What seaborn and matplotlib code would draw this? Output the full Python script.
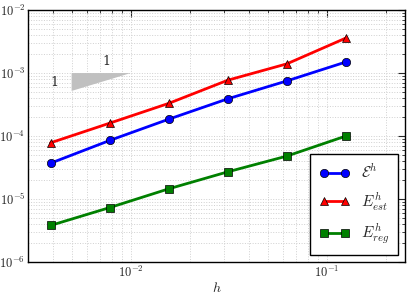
import math

import matplotlib
matplotlib.use('Agg')
import matplotlib.pyplot as plt
import matplotlib.ticker as ticker
import pandas as pd
import seaborn as sns

# dados
h = [1/256, 1/128, 1/64, 1/32, 1/16, 1/8]
err_total = [3.7e-5, 8.5e-5, 1.85e-4, 3.9e-4, 7.5e-4, 1.5e-3]
err_est = [7.8e-5, 1.6e-4, 3.3e-4, 7.7e-4, 1.4e-3, 3.6e-3]
err_reg = [3.8e-6, 7.3e-6, 1.45e-5, 2.7e-5, 4.8e-5, 1.0e-4]

labels = [r'$\mathcal{E}^h$', r'$E^h_{est}$', r'$E^h_{reg}$']
cores = ['#0000ff', '#ff0000', '#008000']
marcadores = ['o', '^', 's']

sns.set_style('white')
plt.rcParams['mathtext.fontset'] = 'cm'
plt.rcParams['font.family'] = ['DejaVu Serif']

fig = plt.figure(figsize=(4.07, 2.97), dpi=100)
ax = fig.add_axes([0.069, 0.118, 0.926, 0.848])

for serie, lab, cor, mk in zip([err_total, err_est, err_reg], labels, cores, marcadores):
    df = pd.DataFrame({'h': h, 'erro': serie})
    sns.lineplot(data=df, x='h', y='erro', ax=ax, color=cor, marker=mk,
                 markersize=6, markeredgecolor='k', markeredgewidth=0.5,
                 linewidth=2, label=lab)

ax.set_xscale('log')
ax.set_yscale('log')
ax.set_xlim(0.003, 0.25)
ax.set_ylim(1e-6, 1e-2)

# triangulo de inclinacao
ax.fill([0.005, 0.01, 0.005], [1e-3, 1e-3, 5.2e-4], color='#c0c0c0', lw=0)
ax.text(0.0075, 1.2e-3, '1', fontsize=9, ha='center', va='bottom')
ax.text(0.0043, 7.2e-4, '1', fontsize=9, ha='right', va='center')

fmt = ticker.FuncFormatter(lambda v, p: r'$10^{%d}$' % round(math.log10(v)))
ax.xaxis.set_major_formatter(fmt)
ax.yaxis.set_major_formatter(fmt)
ax.yaxis.set_major_locator(ticker.LogLocator(base=10, numticks=10))
ax.tick_params(which='both', direction='in', top=True, right=True, labelsize=9)
ax.tick_params(which='major', length=5, pad=2)
ax.tick_params(which='minor', length=2.5)
ax.grid(True, which='both', linestyle=':', color='#d0d0d0', linewidth=0.7)
for s in ax.spines.values():
    s.set_color('k')
    s.set_linewidth(1)

ax.set_xlabel(r'$h$', fontsize=10, labelpad=1)
ax.set_ylabel('')

leg = ax.legend(loc='lower right', fontsize=11, fancybox=False, framealpha=1,
                edgecolor='k', borderaxespad=0.45, handlelength=2.0,
                numpoints=2, handletextpad=0.7, labelspacing=0.6,
                borderpad=0.6)
leg.get_frame().set_linewidth(1)

fig.savefig('out.png', dpi=100)
